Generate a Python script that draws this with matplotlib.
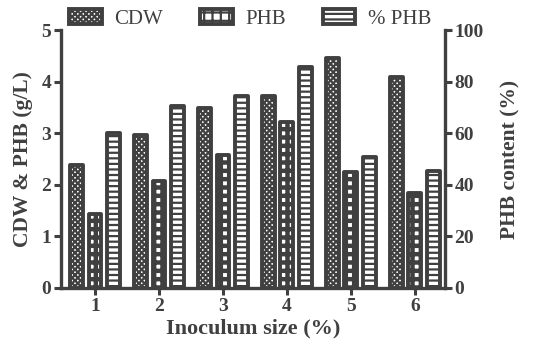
import numpy as np
import matplotlib
matplotlib.use("Agg")
import matplotlib.pyplot as plt

# data
sizes = [1, 2, 3, 4, 5, 6]
cdw = [2.38, 2.96, 3.48, 3.73, 4.45, 4.08]
phb = [1.43, 2.08, 2.58, 3.21, 2.25, 1.84]
phb_pct = [60.2, 70.5, 74.5, 85.8, 50.8, 45.3]

dark = '#404040'
plt.rcParams['font.family'] = ['Liberation Serif', 'DejaVu Serif']
plt.rcParams['hatch.color'] = dark
plt.rcParams['hatch.linewidth'] = 1.6

fig = plt.figure(figsize=(5.36, 3.49), dpi=100)
ax = fig.add_axes([0.114, 0.175, 0.716, 0.739])
ax2 = ax.twinx()

x = np.array(sizes)
w = 0.2
off = 0.29
kw = dict(width=w, facecolor='white', edgecolor=dark, linewidth=2.8)
b1 = ax.bar(x - off, cdw, hatch='xxxxxx', **kw)
b2 = ax.bar(x, phb, hatch='++', **kw)
b3 = ax2.bar(x + off, phb_pct, hatch='---', **kw)
for bars in (b1, b2, b3):
    for b in bars:
        b.set_joinstyle('round')
for b in b2:
    b.set_hatch_linewidth(3.2)

ax.set_xlim(0.47, 6.47)
ax.set_ylim(0, 5)
ax2.set_ylim(0, 100)
ax.set_xticks(sizes)
ax.set_yticks([0, 1, 2, 3, 4, 5])
ax2.set_yticks([0, 20, 40, 60, 80, 100])

for a in (ax, ax2):
    a.spines['top'].set_visible(False)
    for s in ('left', 'right', 'bottom'):
        a.spines[s].set_linewidth(2.4)
        a.spines[s].set_color(dark)
    a.tick_params(width=2.2, length=5, color=dark, labelcolor=dark, labelsize=14, pad=2)
    for lab in a.get_xticklabels() + a.get_yticklabels():
        lab.set_fontweight('bold')
ax.spines['right'].set_visible(False)
ax2.spines['left'].set_visible(False)
ax2.spines['bottom'].set_visible(False)

ax.set_xlabel('Inoculum size (%)', fontsize=16, fontweight='bold', color=dark, labelpad=3)
ax.set_ylabel('CDW & PHB (g/L)', fontsize=15.5, fontweight='bold', color=dark, labelpad=6)
ax2.set_ylabel('PHB content (%)', fontsize=15.5, fontweight='bold', color=dark, labelpad=12)

fig.legend([b1, b2, b3], ['CDW', 'PHB', '% PHB'], ncol=3, frameon=False,
           loc='upper center', bbox_to_anchor=(0.467, 0.985), borderaxespad=0,
           borderpad=0.2, fontsize=15, labelcolor=dark, handlelength=1.55,
           handleheight=0.7, columnspacing=1.8, handletextpad=0.6)

fig.savefig('out.png', dpi=100)
